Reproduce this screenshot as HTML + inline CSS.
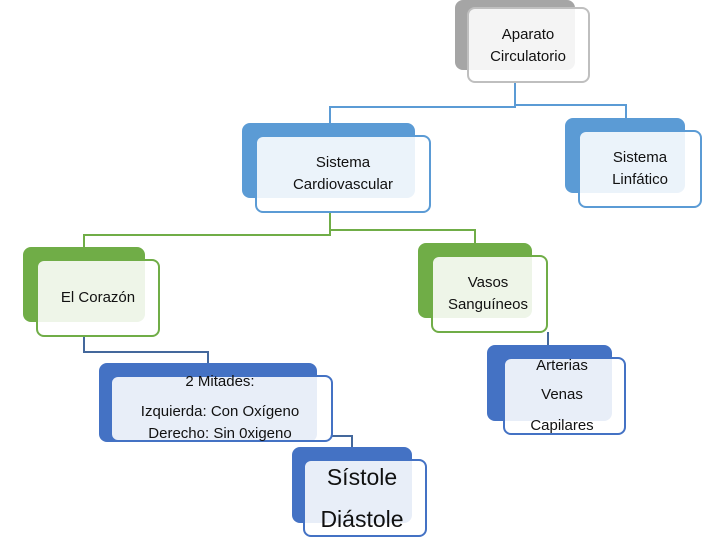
<!DOCTYPE html>
<html><head><meta charset="utf-8"><style>
body{margin:0;width:720px;height:540px;background:#fff;position:relative;overflow:hidden;font-family:"Liberation Sans",sans-serif;}
.b{position:absolute;border-radius:8px;}
.f{position:absolute;border-radius:8px;background:rgba(255,255,255,0.88);box-sizing:border-box;border:2px solid;}
.t{position:absolute;text-align:center;color:#111;font-size:15px;line-height:22px;white-space:nowrap;transform:translateX(-50%);}
.l{position:absolute;}
</style></head><body>
<!-- connectors -->
<div class="l" style="left:514px;top:83px;width:2px;height:24px;background:#5b9bd5"></div>
<div class="l" style="left:329px;top:106px;width:187px;height:2px;background:#5b9bd5"></div>
<div class="l" style="left:514px;top:104px;width:113px;height:2px;background:#5b9bd5"></div>
<div class="l" style="left:329px;top:106px;width:2px;height:18px;background:#5b9bd5"></div>
<div class="l" style="left:625px;top:104px;width:2px;height:15px;background:#5b9bd5"></div>

<div class="l" style="left:329px;top:212px;width:2px;height:23px;background:#70ad47"></div>
<div class="l" style="left:83px;top:234px;width:248px;height:2px;background:#70ad47"></div>
<div class="l" style="left:329px;top:229px;width:147px;height:2px;background:#70ad47"></div>
<div class="l" style="left:83px;top:234px;width:2px;height:14px;background:#70ad47"></div>
<div class="l" style="left:474px;top:229px;width:2px;height:15px;background:#70ad47"></div>

<div class="l" style="left:83px;top:336px;width:2px;height:17px;background:#44689c"></div>
<div class="l" style="left:83px;top:351px;width:126px;height:2px;background:#44689c"></div>
<div class="l" style="left:207px;top:351px;width:2px;height:13px;background:#44689c"></div>
<div class="l" style="left:547px;top:332px;width:2px;height:14px;background:#44689c"></div>
<div class="l" style="left:330px;top:435px;width:23px;height:2px;background:#44689c"></div>
<div class="l" style="left:351px;top:435px;width:2px;height:13px;background:#44689c"></div>

<!-- Aparato -->
<div class="b" style="left:455px;top:0;width:120px;height:70px;background:#a5a5a5"></div>
<div class="f" style="left:467px;top:7px;width:123px;height:76px;border-color:#bfbfbf"></div>
<div class="t" style="left:528px;top:24px">Aparato<br>Circulatorio</div>
<!-- Cardio -->
<div class="b" style="left:242px;top:123px;width:173px;height:75px;background:#5b9bd5"></div>
<div class="f" style="left:255px;top:135px;width:176px;height:78px;border-color:#5b9bd5"></div>
<div class="t" style="left:343px;top:152px">Sistema<br>Cardiovascular</div>
<!-- Linfatico -->
<div class="b" style="left:565px;top:118px;width:120px;height:75px;background:#5b9bd5"></div>
<div class="f" style="left:578px;top:130px;width:124px;height:78px;border-color:#5b9bd5"></div>
<div class="t" style="left:640px;top:147px">Sistema<br>Linfático</div>
<!-- Corazon -->
<div class="b" style="left:23px;top:247px;width:122px;height:75px;background:#70ad47"></div>
<div class="f" style="left:36px;top:259px;width:124px;height:78px;border-color:#70ad47"></div>
<div class="t" style="left:98px;top:287px">El Corazón</div>
<!-- Vasos -->
<div class="b" style="left:418px;top:243px;width:114px;height:75px;background:#70ad47"></div>
<div class="f" style="left:431px;top:255px;width:117px;height:78px;border-color:#70ad47"></div>
<div class="t" style="left:488px;top:272px">Vasos<br>Sanguíneos</div>
<!-- Mitades -->
<div class="b" style="left:99px;top:363px;width:218px;height:79px;background:#4472c4"></div>
<div class="f" style="left:110px;top:375px;width:223px;height:67px;border-color:#4472c4"></div>
<div class="t" style="left:220px;top:372px;line-height:20px">2 Mitades:</div>
<div class="t" style="left:220px;top:402px;line-height:20px">Izquierda: Con Oxígeno</div>
<div class="t" style="left:220px;top:424px;line-height:20px">Derecho: Sin 0xigeno</div>
<!-- Arterias -->
<div class="b" style="left:487px;top:345px;width:125px;height:76px;background:#4472c4"></div>
<div class="f" style="left:503px;top:357px;width:123px;height:78px;border-color:#4472c4"></div>
<div class="t" style="left:562px;top:355px">Arterias</div>
<div class="t" style="left:562px;top:384px">Venas</div>
<div class="t" style="left:562px;top:415px">Capilares</div>
<!-- Sistole -->
<div class="b" style="left:292px;top:447px;width:120px;height:76px;background:#4472c4"></div>
<div class="f" style="left:303px;top:459px;width:124px;height:78px;border-color:#4472c4"></div>
<div class="t" style="left:362px;top:462px;font-size:23px;line-height:30px">Sístole</div>
<div class="t" style="left:362px;top:504px;font-size:23px;line-height:30px">Diástole</div>
</body></html>
